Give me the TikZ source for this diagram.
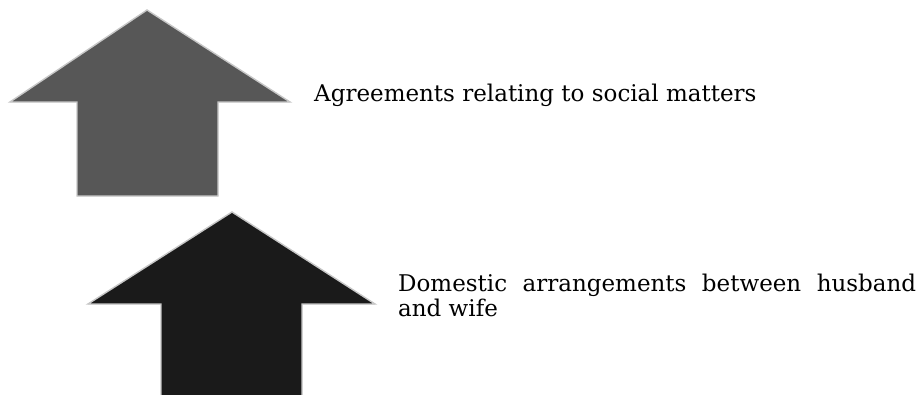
\documentclass[tikz,border=0pt]{standalone}
\usepackage{fontspec}
\setmainfont{DejaVu Serif}
\begin{document}
\begin{tikzpicture}[x=1pt,y=-1pt,
  uparrow/.style={draw=black!22,line width=1.4pt,line join=miter},
  label/.style={inner sep=0pt,font=\fontsize{23}{25.5}\selectfont}]
\useasboundingbox (0,0) rectangle (919,394);
\clip (0,0) rectangle (919,394);
\fill[white] (0,0) rectangle (919,394);
% upper arrow
\filldraw[uparrow,fill={rgb,255:red,87;green,87;blue,87}]
  (147,10) -- (290,102) -- (218,102) -- (218,196) -- (77,196) -- (77,102) -- (10,102) -- cycle;
% lower arrow
\filldraw[uparrow,fill={rgb,255:red,26;green,26;blue,26}]
  (232,212) -- (375,304) -- (302,304) -- (302,420) -- (161,420) -- (161,304) -- (88,304) -- cycle;
\node[label,anchor=base west] (t1) at (314,101) {Agreements relating to social matters};
\node[label,anchor=north west,text width=518pt,align=justify] (t2) at (398,273.5)
  {Domestic arrangements between husband\linebreak and wife};
\end{tikzpicture}
\end{document}
